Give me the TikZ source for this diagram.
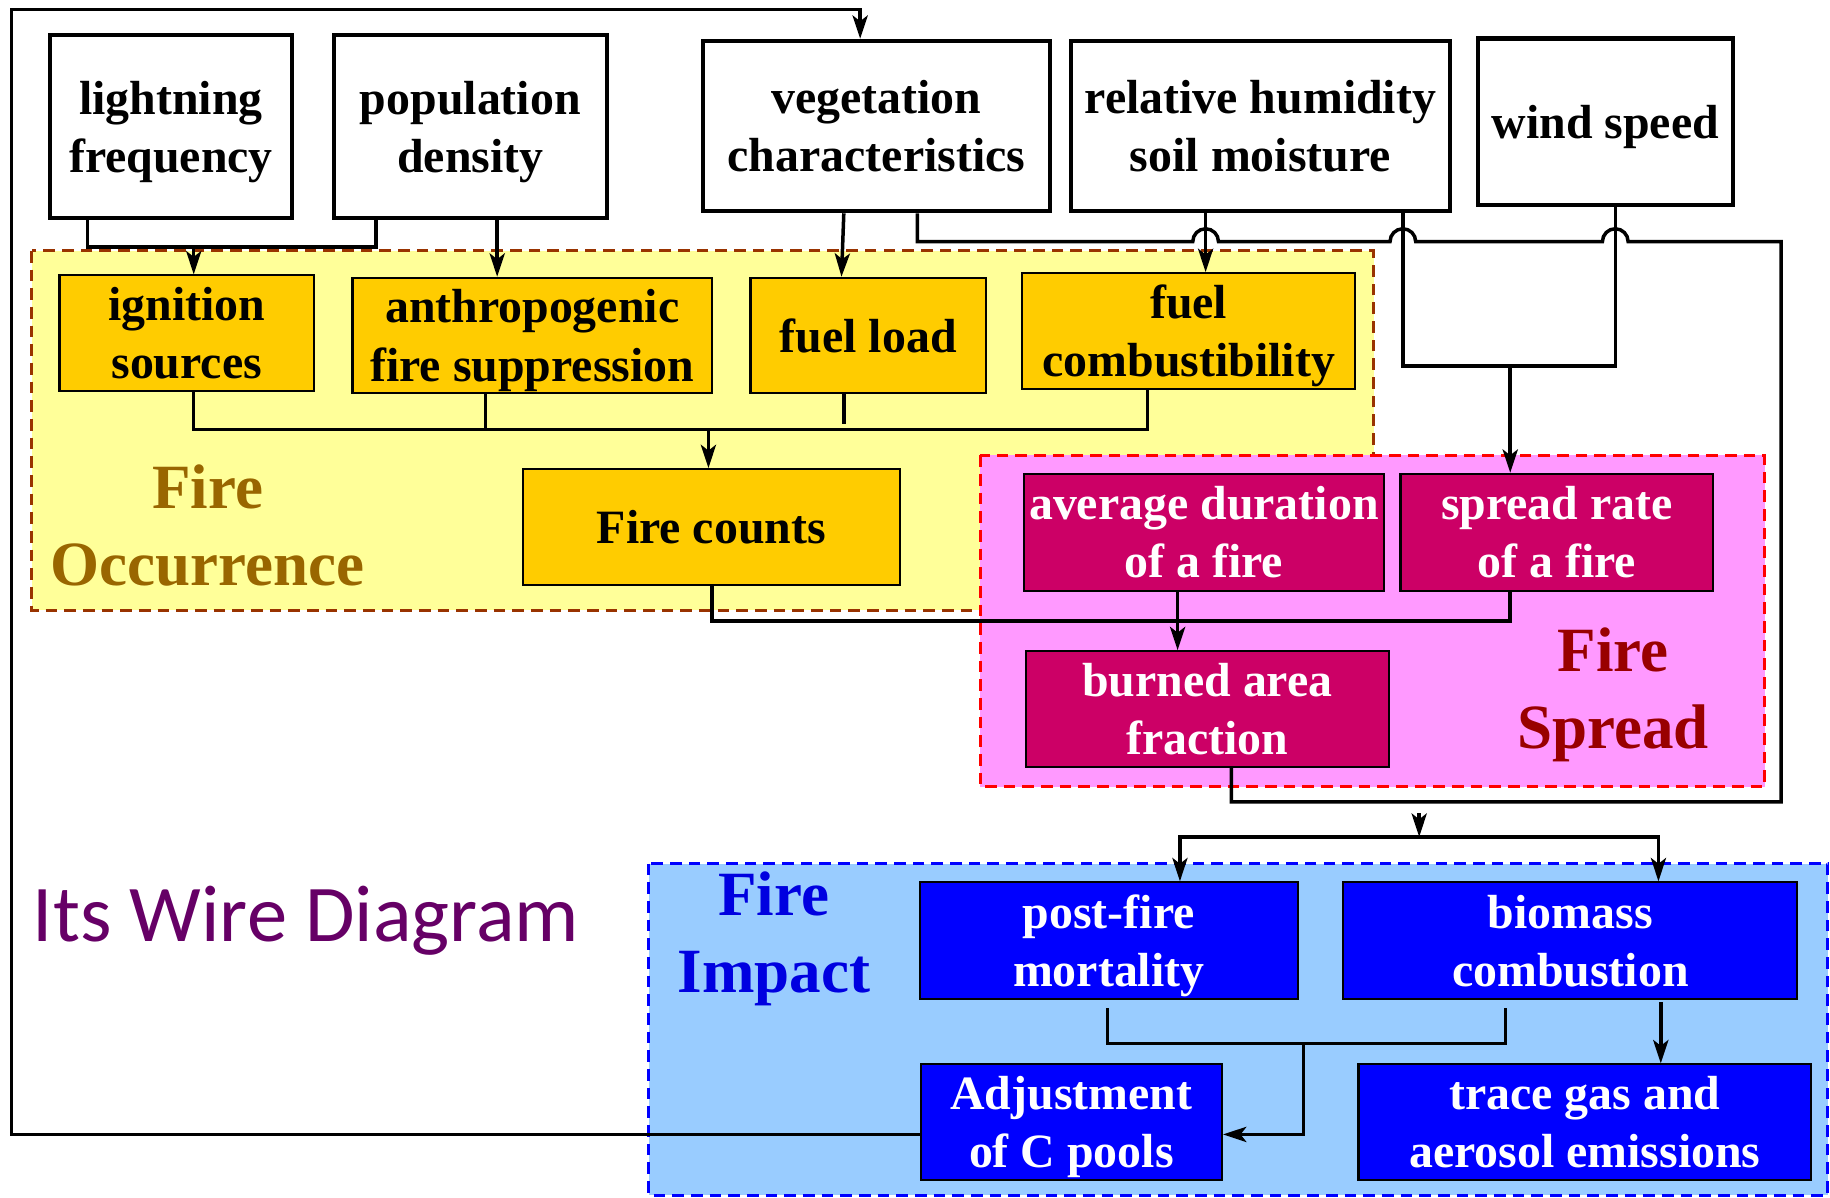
\documentclass[tikz,border=0pt]{standalone}
\usepackage{fontspec}
\setmainfont{Liberation Serif}
\newfontfamily\wirefont{Carlito}
\usetikzlibrary{arrows.meta}
\definecolor{cYreg}{HTML}{FFFF99}
\definecolor{cYedge}{HTML}{993300}
\definecolor{cYbox}{HTML}{FFCC00}
\definecolor{cYtxt}{HTML}{996600}
\definecolor{cPreg}{HTML}{FF99FF}
\definecolor{cPedge}{HTML}{FF0000}
\definecolor{cPbox}{HTML}{CC0066}
\definecolor{cPtxt}{HTML}{990000}
\definecolor{cBreg}{HTML}{99CCFF}
\definecolor{cBedge}{HTML}{0000FF}
\definecolor{cBbox}{HTML}{0000FF}
\definecolor{cBtxt}{HTML}{0000E0}
\definecolor{cTitle}{HTML}{660066}
\newcommand{\boxfont}{\bfseries\fontsize{41}{50}\selectfont}
\newcommand{\grpfont}{\bfseries\fontsize{54}{66}\selectfont}
\begin{document}
\begin{tikzpicture}[x=1pt,y=-1pt,
  wbox/.style={draw=black, line width=3.5pt, fill=white, inner sep=0pt, align=center, font=\boxfont, text depth=0pt},
  cbox/.style={draw=black, line width=1.8pt, inner sep=0pt, align=center, font=\boxfont, text depth=0pt},
  ybox/.style={cbox, fill=cYbox},
  mbox/.style={cbox, fill=cPbox, text=white},
  bbox/.style={cbox, fill=cBbox, text=white},
  region/.style={line width=2.5pt, dash pattern=on 10pt off 6pt},
  grp/.style={align=center, font=\grpfont, inner sep=0pt},
  wire/.style={line width=3pt},
  arr/.style={wire, -{Stealth[length=20pt,width=13pt,inset=5pt]}}
]
\useasboundingbox (0,0) rectangle (1568,1026);

% regions
\draw[region, draw=cYedge, fill=cYreg] (27,215) rectangle (1177,523);
\draw[region, draw=cPedge, fill=cPreg] (840,390) rectangle (1512,674);
\draw[region, draw=cBedge, fill=cBreg] (556,740) rectangle (1566,1024);

% group labels
\node[grp, text=cYtxt] (gocc) at (178,450) {Fire\\Occurrence};
\node[grp, text=cPtxt] (gspr) at (1382,595) {Fire\\Spread};
\node[grp, text=cBtxt] (gimp) at (663,804) {Fire\\Impact};
\node[anchor=west, inner sep=0pt, text=cTitle, font=\wirefont\fontsize{69}{80}\selectfont] (title) at (28,789) {Its Wire Diagram};

% top boxes
\node[wbox, minimum width=207pt, minimum height=157pt] (light) at (146.5,108.5) {lightning\\frequency};
\node[wbox, minimum width=234pt, minimum height=157pt] (pop) at (403,108.5) {population\\density};
\node[wbox, minimum width=298pt, minimum height=146pt] (veg) at (751,108) {vegetation\\characteristics};
\node[wbox, minimum width=324pt, minimum height=146pt] (hum) at (1080,108) {relative humidity\\soil moisture};
\node[wbox, minimum width=219pt, minimum height=143pt] (wind) at (1375.5,104.5) {wind speed};

% occurrence boxes
\node[ybox, minimum width=218pt, minimum height=99pt] (ign) at (160,285.5) {ignition\\sources};
\node[ybox, minimum width=308pt, minimum height=99pt] (anth) at (456,287.5) {anthropogenic\\fire suppression};
\node[ybox, minimum width=202pt, minimum height=99pt] (fload) at (744,287.5) {fuel load};
\node[ybox, minimum width=285pt, minimum height=99pt] (fcomb) at (1018.5,283.5) {fuel\\combustibility};
\node[ybox, minimum width=323pt, minimum height=99pt] (fc) at (609.5,451.5) {Fire counts};

% spread boxes
\node[mbox, minimum width=309pt, minimum height=100pt] (avg) at (1031.5,456) {average duration\\of a fire};
\node[mbox, minimum width=268pt, minimum height=100pt] (spread) at (1334,456) {spread rate\\of a fire};
\node[mbox, minimum width=311pt, minimum height=99pt] (burned) at (1034.5,607.5) {burned area\\fraction};

% impact boxes
\node[bbox, minimum width=324pt, minimum height=100pt] (post) at (950,806) {post-fire\\mortality};
\node[bbox, minimum width=389pt, minimum height=100pt] (bio) at (1345.5,806) {biomass\\combustion};
\node[bbox, minimum width=258pt, minimum height=99pt] (adj) at (918,961.5) {Adjustment\\of C pools};
\node[bbox, minimum width=388pt, minimum height=99pt] (trace) at (1358,961.5) {trace gas and\\aerosol emissions};

% junction coordinates
\coordinate (j1) at (166,210);
\coordinate (j3) at (1294,312);
\coordinate (j5) at (607,368);
\coordinate (j6) at (1216,697);
\coordinate (j7) at (1216,717);
\coordinate (j8) at (1117,894);
\coordinate (r1) at (1526,207);
\coordinate (r2) at (1526,687);
\coordinate (c1) at (10,8);

% lightning + population -> ignition
\draw[wire] ([xshift=-71.5pt]light.south) -- ++(0,23) -| ([xshift=-81pt]pop.south);
\draw[arr] (j1) -- (j1 |- ign.north);
% population -> anthropogenic
\draw[arr] ([xshift=23pt]pop.south) -- ([xshift=-30pt]anth.north);
% vegetation -> fuel load
\draw[arr] ([xshift=-28pt]veg.south) -- ([xshift=-23pt]fload.north);
% humidity -> fuel combustibility
\draw[arr] ([xshift=-47pt]hum.south) -- ([xshift=14.5pt]fcomb.north);
% humidity + wind -> spread rate
\draw[wire] ([xshift=122pt]hum.south) -- ++(0,131) -| ([xshift=8.5pt]wind.south);
\draw[arr] (j3) -- (j3 |- spread.north);
% vegetation -> long line with jumps -> burned area line
\draw[wire] ([xshift=35pt]veg.south) -- (786,207) -- (1022,207)
  arc[start angle=180, end angle=360, radius=11] -- (1191,207)
  arc[start angle=180, end angle=360, radius=11] -- (1373,207)
  arc[start angle=180, end angle=360, radius=11] -- (r1) -- (r2)
  -| ([xshift=20.5pt]burned.south);
% occurrence boxes -> fire counts
\draw[wire] ([xshift=6pt]ign.south) |- (j5) -| ([xshift=-35.5pt]fcomb.south);
\draw[wire] ([xshift=-40pt]anth.south) -- ++(0,31);
\draw[wire] ([xshift=-21pt]fload.south) -- ++(0,25);
\draw[arr] (j5) -- (j5 |- fc.north);
% fire counts + spread rate
\draw[wire] ([xshift=0.5pt]fc.south) -- ++(0,30) -| ([xshift=-40pt]spread.south);
\draw[arr] ([xshift=-22.5pt]avg.south) -- ([xshift=-25.5pt]burned.north);
% to impact
\draw[arr] (j6) -- (j7);
\draw[arr] (j7) -| ([xshift=61pt]post.north);
\draw[arr] (j7) -| ([xshift=75.5pt]bio.north);
% post-fire + biomass -> adjustment
\draw[wire] ([xshift=-1pt,yshift=-7pt]post.south) |- (j8) -| ([xshift=-55.5pt,yshift=-7pt]bio.south);
\draw[arr] (j8) |- (adj.east |- 0,972);
\draw[arr] ([xshift=77.5pt,yshift=-2pt]bio.south) -- ([xshift=65pt]trace.north);
% feedback loop
\draw[arr] ([yshift=-10.5pt]adj.west) -| (c1) -| ([xshift=-14pt]veg.north);
\end{tikzpicture}
\end{document}
